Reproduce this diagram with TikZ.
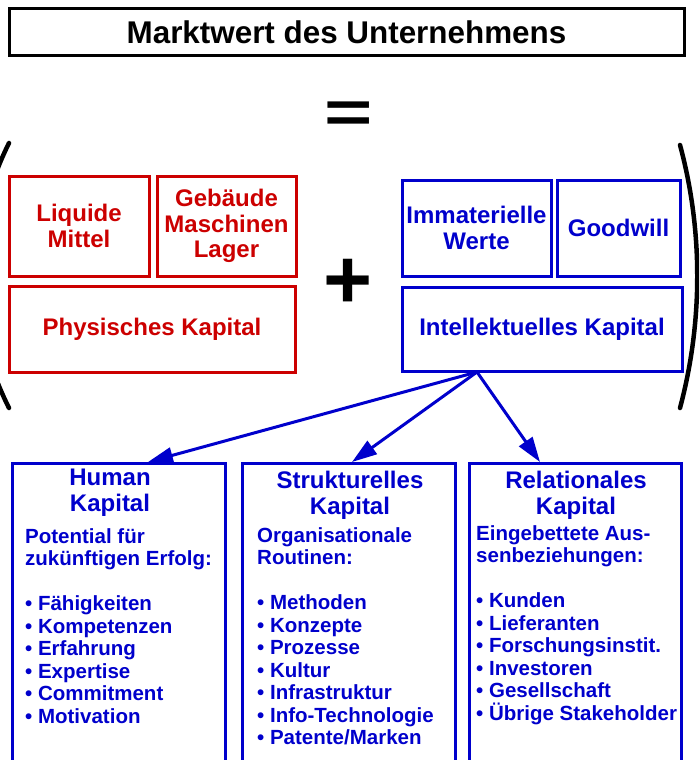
\documentclass[tikz,border=0pt]{standalone}
\usepackage{fontspec}
\setmainfont{Liberation Sans}
\usetikzlibrary{arrows.meta}
\definecolor{mred}{RGB}{204,0,0}
\definecolor{mblue}{RGB}{0,0,204}
\begin{document}
\begin{tikzpicture}[x=1pt,y=-1pt,
  box/.style={line width=3pt, inner sep=0pt, align=center, font=\bfseries\fontsize{24}{25.5}\selectfont},
  redbox/.style={box, draw=mred, text=mred},
  bluebox/.style={box, draw=mblue, text=mblue},
  colbox/.style={draw=mblue, line width=3pt, inner sep=0pt},
  coltitle/.style={text=mblue, inner sep=0pt, align=center, font=\bfseries\fontsize{24}{26}\selectfont},
  coltext/.style={text=mblue, inner sep=0pt, align=left, font=\bfseries\fontsize{20.5}{22.5}\selectfont},
  arr/.style={draw=mblue, line width=3pt, -{Triangle[length=25pt,width=16pt]}},
  paren/.style={line width=4.5pt, line cap=round},
  sign/.style={inner sep=0pt}
]
\useasboundingbox (0,0) rectangle (699,760);
\clip (0,0) rectangle (699,760);
\fill[white] (0,0) rectangle (699,760);

% title
\node[draw, line width=3pt, minimum width=675pt, minimum height=47pt, inner sep=0pt,
      font=\bfseries\fontsize{31.4}{31.4}\selectfont] (title) at (346.5,32.5) {Marktwert des Unternehmens};

% signs
\node[sign, font=\bfseries\fontsize{92}{92}\selectfont] (eq) at (349,117) {\scalebox{0.9}[0.64]{=}};
\node[sign, font=\bfseries\fontsize{84}{84}\selectfont] (plus) at (348.5,284) {+};

% parentheses
\draw[paren] (9,143) .. controls (-34,230) and (-34,322) .. (9,408);
\draw[paren] (680,145) .. controls (703,230) and (703,322) .. (680,408);

% physical capital
\node[redbox, minimum width=140pt, minimum height=100pt] (lm) at (79,226) {Liquide\\Mittel};
\node[redbox, minimum width=139pt, minimum height=100pt] (gml) at (226.5,226) {Gebäude\\Maschinen\\Lager};
\node[redbox, minimum width=286pt, minimum height=86pt] (pk) at (152,329) {Physisches Kapital};

% intellectual capital
\node[bluebox, minimum width=149pt, minimum height=96pt] (iw) at (476.5,228) {Immaterielle\\Werte};
\node[bluebox, minimum width=123pt, minimum height=96pt] (gw) at (618.5,228) {Goodwill};
\node[bluebox, minimum width=280pt, minimum height=84pt] (ik) at (542,329) {Intellektuelles Kapital};

% columns
\node[colbox, minimum width=213pt, minimum height=337pt] (hk) at (118.5,631.5) {};
\node[colbox, minimum width=213pt, minimum height=337pt] (sk) at (348.5,631.5) {};
\node[colbox, minimum width=212pt, minimum height=337pt] (rk) at (575,631.5) {};

\node[coltitle, anchor=north] (hkt) at (110,469) {Human\\Kapital};
\node[coltitle, anchor=north] (skt) at (350,470.5) {Strukturelles\\Kapital};
\node[coltitle, anchor=north] (rkt) at (576,470.5) {Relationales\\Kapital};

\node[coltext, anchor=north west] (hkb) at (25,528) {Potential für\\zukünftigen Erfolg:\\[22.5pt]• Fähigkeiten\\• Kompetenzen\\• Erfahrung\\• Expertise\\• Commitment\\• Motivation};
\node[coltext, anchor=north west] (skb) at (257,527) {Organisationale\\Routinen:\\[22.5pt]• Methoden\\• Konzepte\\• Prozesse\\• Kultur\\• Infrastruktur\\• Info-Technologie\\• Patente/Marken};
\node[coltext, anchor=north west] (rkb) at (476,525) {Eingebettete Aus-\\senbeziehungen:\\[22.5pt]• Kunden\\• Lieferanten\\• Forschungsinstit.\\• Investoren\\• Gesellschaft\\• Übrige Stakeholder};

% connectors
\coordinate (src) at (477,372);
\coordinate (hin) at (148,462);
\coordinate (sin) at (352,462);
\coordinate (rin) at (540,462);
\draw[arr] (src) -- (hin);
\draw[arr] (src) -- (sin);
\draw[arr] (src) -- (rin);
\end{tikzpicture}
\end{document}
